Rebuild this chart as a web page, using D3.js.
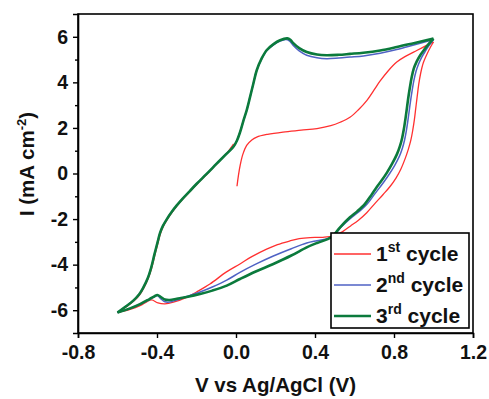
<!DOCTYPE html>
<html>
<head>
<meta charset="utf-8">
<script src="https://cdn.jsdelivr.net/npm/d3@7"></script>
<style>
  body { margin: 0; background: #fff; }
  svg { font-family: "Liberation Sans", Arial, sans-serif; font-weight: bold; }
</style>
</head>
<body>
<div id="chart"></div>
<script>
// tick values
var xTicks = [-0.8, -0.4, 0.0, 0.4, 0.8, 1.2];
var yTicks = [-6, -4, -2, 0, 2, 4, 6];
var yMinor = [-5, -3, -1, 1, 3, 5];

var cycleNames = ["1st cycle", "2nd cycle", "3rd cycle"];

// 1st cycle: starts at 0 V, goes up to 1.0 V, down to -0.6 V, back to ~0 V
var c1Forward = [[0.005,-0.56],[0.012,-0.1],[0.022,0.4],[0.035,0.85],[0.054,1.23],[0.08,1.47],[0.105,1.6],
  [0.16,1.72],[0.238,1.82],[0.33,1.9],[0.41,1.97],[0.48,2.1],[0.527,2.25],[0.577,2.47],[0.62,2.8],
  [0.662,3.2],[0.7,3.68],[0.729,4.05],[0.77,4.5],[0.814,4.89],[0.86,5.15],[0.915,5.4],[0.96,5.6],[1.0,5.77]];
var c1Reverse = [[1.0,5.77],[0.985,5.55],[0.965,5.2],[0.948,4.85],[0.935,4.4],[0.925,3.9],[0.917,3.35],
  [0.91,2.85],[0.903,2.35],[0.895,1.9],[0.885,1.45],[0.872,1.05],[0.855,0.62],[0.835,0.2],[0.81,-0.2],
  [0.78,-0.57],[0.745,-0.92],[0.705,-1.3],[0.662,-1.72],[0.62,-2.05],[0.58,-2.3],[0.54,-2.55],[0.493,-2.74],
  [0.44,-2.8],[0.375,-2.81],[0.32,-2.86],[0.273,-2.96],[0.21,-3.12],[0.155,-3.32],[0.08,-3.65],[0.02,-3.97],
  [-0.05,-4.33],[-0.132,-4.85],[-0.2,-5.2],[-0.25,-5.44],[-0.317,-5.65],[-0.36,-5.72],[-0.395,-5.68],
  [-0.427,-5.55],[-0.45,-5.62],[-0.486,-5.8],[-0.54,-5.97],[-0.6,-6.1]];
var c1Return = [[-0.6,-6.1],[-0.555,-5.85],[-0.515,-5.58],[-0.486,-5.3],[-0.464,-4.98],[-0.443,-4.58],
  [-0.426,-4.12],[-0.409,-3.52],[-0.393,-2.98],[-0.382,-2.62],[-0.367,-2.3],[-0.347,-2.0],[-0.322,-1.68],
  [-0.297,-1.4],[-0.267,-1.1],[-0.232,-0.78],[-0.196,-0.45],[-0.148,-0.03],[-0.097,0.43],[-0.05,0.85],[-0.012,1.3]];

// 2nd cycle
var c2Forward = [[-0.6,-6.1],[-0.56,-5.85],[-0.52,-5.58],[-0.49,-5.3],[-0.469,-5.0],[-0.447,-4.6],[-0.43,-4.15],
  [-0.413,-3.55],[-0.396,-2.98],[-0.385,-2.62],[-0.37,-2.3],[-0.35,-2.0],[-0.325,-1.68],[-0.3,-1.4],
  [-0.27,-1.1],[-0.235,-0.78],[-0.199,-0.45],[-0.15,-0.03],[-0.098,0.43],[-0.05,0.85],[-0.014,1.16],
  [0.005,1.45],[0.02,1.8],[0.037,2.3],[0.054,2.77],[0.071,3.35],[0.088,3.95],[0.105,4.53],[0.13,5.03],
  [0.155,5.39],[0.19,5.65],[0.223,5.81],[0.253,5.88],[0.27,5.82],[0.29,5.62],[0.32,5.38],[0.358,5.19],
  [0.41,5.08],[0.459,5.04],[0.52,5.07],[0.577,5.11],[0.645,5.16],[0.73,5.28],[0.814,5.44],[0.9,5.64],[1.0,5.88]];
var c2Reverse = [[1.0,5.88],[0.978,5.62],[0.958,5.36],[0.94,5.1],[0.925,4.82],[0.912,4.5],[0.901,4.1],
  [0.892,3.65],[0.884,3.2],[0.877,2.75],[0.87,2.3],[0.862,1.85],[0.853,1.45],[0.842,1.1],[0.827,0.75],
  [0.803,0.35],[0.778,0.0],[0.752,-0.33],[0.727,-0.62],[0.698,-0.95],[0.665,-1.33],[0.626,-1.65],
  [0.587,-1.92],[0.535,-2.33],[0.497,-2.7],[0.467,-2.85],[0.41,-2.95],[0.358,-3.05],[0.28,-3.3],
  [0.189,-3.62],[0.1,-3.98],[0.02,-4.34],[-0.047,-4.68],[-0.12,-4.98],[-0.182,-5.2],[-0.25,-5.4],
  [-0.3,-5.55],[-0.335,-5.64],[-0.36,-5.63],[-0.38,-5.5],[-0.398,-5.36],[-0.415,-5.42],[-0.44,-5.54],
  [-0.486,-5.74],[-0.54,-5.94],[-0.6,-6.1]];

// 3rd cycle
var c3Forward = [[-0.6,-6.1],[-0.56,-5.85],[-0.52,-5.58],[-0.49,-5.3],[-0.469,-5.0],[-0.447,-4.6],[-0.43,-4.15],
  [-0.413,-3.55],[-0.396,-2.98],[-0.385,-2.62],[-0.37,-2.3],[-0.35,-2.0],[-0.325,-1.68],[-0.3,-1.4],
  [-0.27,-1.1],[-0.235,-0.78],[-0.199,-0.45],[-0.15,-0.03],[-0.098,0.43],[-0.05,0.85],[-0.014,1.16],
  [0.005,1.45],[0.02,1.8],[0.037,2.3],[0.054,2.77],[0.071,3.35],[0.088,3.95],[0.105,4.53],[0.13,5.05],
  [0.155,5.41],[0.19,5.68],[0.223,5.85],[0.26,5.93],[0.275,5.87],[0.29,5.72],[0.32,5.5],[0.358,5.33],
  [0.41,5.22],[0.459,5.19],[0.52,5.21],[0.577,5.25],[0.645,5.3],[0.73,5.4],[0.814,5.55],[0.9,5.72],[1.0,5.92]];
var c3Reverse = [[1.0,5.92],[0.975,5.68],[0.952,5.42],[0.932,5.18],[0.914,4.9],[0.9,4.6],[0.889,4.2],
  [0.88,3.75],[0.872,3.3],[0.865,2.85],[0.858,2.4],[0.85,1.95],[0.841,1.55],[0.83,1.2],[0.815,0.85],
  [0.79,0.42],[0.765,0.05],[0.738,-0.3],[0.712,-0.6],[0.685,-0.95],[0.653,-1.33],[0.615,-1.65],
  [0.577,-1.92],[0.527,-2.36],[0.493,-2.72],[0.467,-2.87],[0.41,-3.05],[0.358,-3.24],[0.28,-3.6],
  [0.189,-3.97],[0.1,-4.3],[0.02,-4.63],[-0.047,-4.92],[-0.12,-5.14],[-0.182,-5.29],[-0.25,-5.42],
  [-0.3,-5.5],[-0.335,-5.55],[-0.36,-5.53],[-0.38,-5.42],[-0.398,-5.33],[-0.415,-5.4],[-0.44,-5.52],
  [-0.486,-5.73],[-0.54,-5.93],[-0.6,-6.1]];

var series = [
  {name: cycleNames[0], color: "#ff3030", width: 1.3, parts: [c1Forward, c1Reverse, c1Return]},
  {name: cycleNames[1], color: "#4f62c4", width: 1.5, parts: [c2Forward, c2Reverse]},
  {name: cycleNames[2], color: "#0b7a3c", width: 2.6, parts: [c3Forward, c3Reverse]}
];

var margin = {top: 14, right: 16, bottom: 66, left: 78},
  width = 489 - margin.left - margin.right,
  height = 399 - margin.top - margin.bottom;

var svg = d3.select("#chart").append("svg")
  .attr("width", 489)
  .attr("height", 399);

var g = svg.append("g")
  .attr("transform", "translate(" + margin.left + "," + margin.top + ")");

var x = d3.scaleLinear().domain([-0.8, 1.2]).range([0, width]);
var y = d3.scaleLinear().domain([-7, 7]).range([height, 0]);

// frame
g.append("rect")
  .attr("width", width)
  .attr("height", height)
  .attr("fill", "none")
  .attr("stroke", "#000")
  .attr("stroke-width", 1.6);

// axes
g.append("g")
  .attr("transform", "translate(0," + height + ")")
  .call(d3.axisBottom(x).tickValues(xTicks).tickSize(5).tickPadding(7)
    .tickFormat(function(d) { return d.toFixed(1); }));

g.append("g")
  .call(d3.axisLeft(y).tickValues(yTicks).tickSize(5).tickPadding(5)
    .tickFormat(function(d) { return String(d); }));

g.append("g")
  .call(d3.axisLeft(y).tickValues(yMinor).tickSize(3).tickFormat(""))
  .select(".domain").remove();

g.selectAll(".tick line").attr("stroke-width", 1.4);
g.selectAll(".domain").attr("stroke-width", 1.6);
g.selectAll(".tick text")
  .attr("font-size", 19.5)
  .attr("font-family", "Liberation Sans, Arial, sans-serif")
  .attr("font-weight", "bold")
  .attr("fill", "#111");

// curves
var line = d3.line()
  .x(function(d) { return x(d[0]); })
  .y(function(d) { return y(d[1]); })
  .curve(d3.curveCatmullRom.alpha(0.5));

series.forEach(function(s) {
  s.parts.forEach(function(p) {
    g.append("path")
      .datum(p)
      .attr("fill", "none")
      .attr("stroke", s.color)
      .attr("stroke-width", s.width)
      .attr("stroke-linejoin", "round")
      .attr("d", line);
  });
});

// axis titles
svg.append("text")
  .attr("x", margin.left + width / 2)
  .attr("y", 392)
  .attr("text-anchor", "middle")
  .attr("font-size", 20.5)
  .attr("fill", "#111")
  .text("V vs Ag/AgCl (V)");

var yt = svg.append("text")
  .attr("transform", "translate(34,164) rotate(-90)")
  .attr("text-anchor", "middle")
  .attr("font-size", 20.5)
  .attr("fill", "#111");
yt.append("tspan").text("I (mA cm");
yt.append("tspan").attr("font-size", 13).attr("dy", -8).text("-2");
yt.append("tspan").attr("dy", 8).text(")");

// legend
var sups = ["st", "nd", "rd"];
var lg = svg.append("g").attr("transform", "translate(331,233)");
lg.append("rect")
  .attr("width", 138)
  .attr("height", 95)
  .attr("fill", "#fff")
  .attr("stroke", "#000")
  .attr("stroke-width", 1.6);

series.forEach(function(s, i) {
  var ly = 21 + i * 31;
  lg.append("line")
    .attr("x1", 3).attr("x2", 40)
    .attr("y1", ly).attr("y2", ly)
    .attr("stroke", s.color)
    .attr("stroke-width", s.width);
  var t = lg.append("text")
    .attr("x", 45)
    .attr("y", ly + 6.5)
    .attr("font-size", 21)
    .attr("fill", "#111");
  t.append("tspan").text(String(i + 1));
  t.append("tspan").attr("font-size", 14).attr("dy", -9).text(sups[i]);
  t.append("tspan").attr("dy", 9).text(" cycle");
});
</script>
</body>
</html>
